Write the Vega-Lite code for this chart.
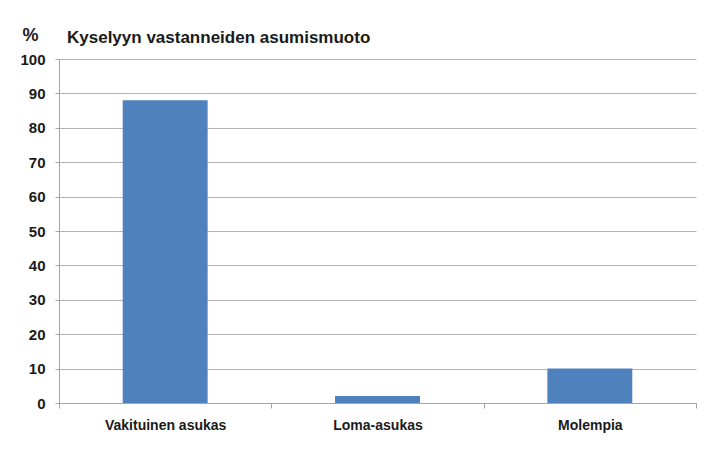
{
  "$schema": "https://vega.github.io/schema/vega-lite/v6.json",
  "autosize": "none",
  "width": 637,
  "height": 344,
  "padding": {"left": 59, "top": 59, "right": 29, "bottom": 51},
  "background": "white",
  "title": {
    "text": "Kyselyyn vastanneiden asumismuoto",
    "anchor": "start",
    "frame": "group",
    "dx": 8,
    "dy": 35,
    "offset": 14,
    "font": "Liberation Sans",
    "fontSize": 17,
    "fontWeight": "bold",
    "color": "#1a1a1a"
  },
  "data": {
    "values": [
      {"asumismuoto": "Vakituinen asukas", "osuus": 88},
      {"asumismuoto": "Loma-asukas", "osuus": 2},
      {"asumismuoto": "Molempia", "osuus": 10}
    ]
  },
  "mark": {"type": "bar", "color": "#4f81bd", "width": {"band": 0.4}},
  "encoding": {
    "x": {
      "field": "asumismuoto",
      "type": "nominal",
      "sort": null,
      "scale": {"paddingInner": 0, "paddingOuter": 0},
      "axis": {
        "title": null,
        "labelAngle": 0,
        "tickBand": "extent",
        "tickSize": 5,
        "tickColor": "#a6a6a6",
        "domainColor": "#a6a6a6",
        "labelPadding": 10,
        "labelFont": "Liberation Sans",
        "labelFontSize": 14,
        "labelFontWeight": "bold",
        "labelColor": "#1a1a1a"
      }
    },
    "y": {
      "field": "osuus",
      "type": "quantitative",
      "scale": {"domain": [0, 100], "nice": false},
      "axis": {
        "values": [0, 10, 20, 30, 40, 50, 60, 70, 80, 90, 100],
        "title": "%",
        "titleAngle": 0,
        "titleAlign": "left",
        "titleBaseline": "alphabetic",
        "titleX": -37,
        "titleY": -19,
        "titleFont": "Liberation Sans",
        "titleFontSize": 18,
        "titleFontWeight": "bold",
        "titleColor": "#1a1a1a",
        "tickSize": 4,
        "tickColor": "#a6a6a6",
        "domainColor": "#a6a6a6",
        "gridColor": "#b3b3b3",
        "labelPadding": 10,
        "labelFont": "Liberation Sans",
        "labelFontSize": 15,
        "labelFontWeight": "bold",
        "labelColor": "#1a1a1a"
      }
    }
  },
  "config": {"view": {"stroke": null}}
}
